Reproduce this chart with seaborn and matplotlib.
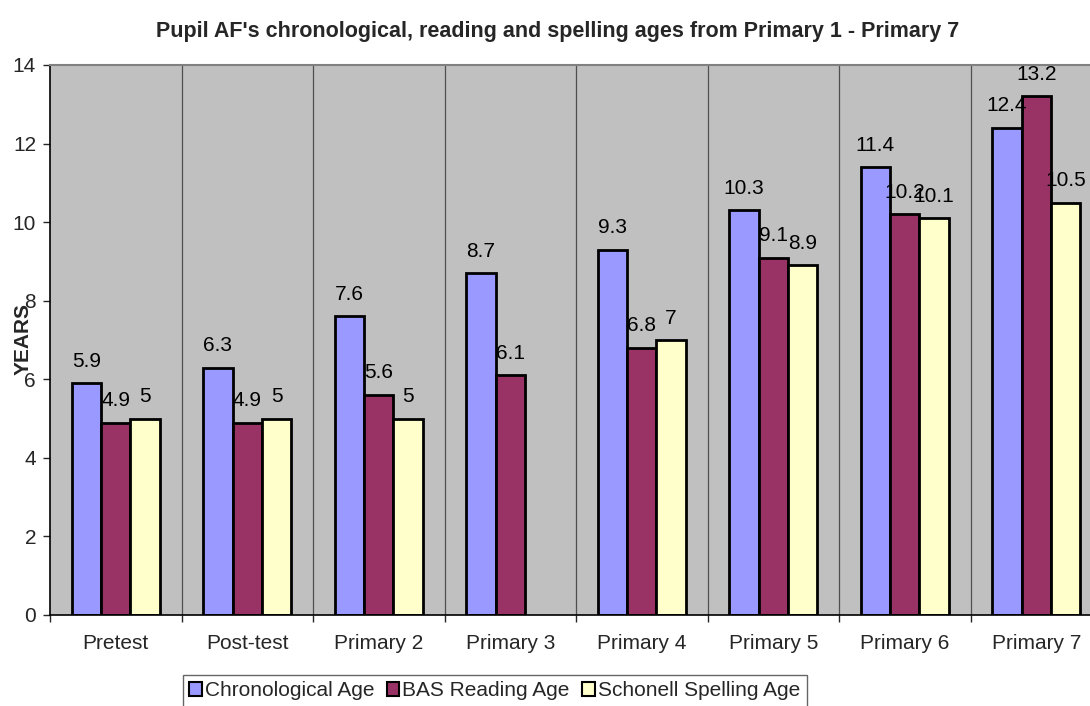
import numpy as np
import pandas as pd
import matplotlib
matplotlib.use("Agg")
import matplotlib.pyplot as plt
import seaborn as sns
from matplotlib.patches import Patch

categories = ["Pretest", "Post-test", "Primary 2", "Primary 3", "Primary 4", "Primary 5", "Primary 6", "Primary 7"]
series_names = ["Chronological Age", "BAS Reading Age", "Schonell Spelling Age"]
chronological = [5.9, 6.3, 7.6, 8.7, 9.3, 10.3, 11.4, 12.4]
bas_reading = [4.9, 4.9, 5.6, 6.1, 6.8, 9.1, 10.2, 13.2]
schonell_spelling = [5, 5, 5, np.nan, 7, 8.9, 10.1, 10.5]
colors = ["#9999FF", "#993366", "#FFFFCC"]

rows = []
for name, vals in zip(series_names, [chronological, bas_reading, schonell_spelling]):
    for c, v in zip(categories, vals):
        rows.append({"Stage": c, "Series": name, "Age": v})
df = pd.DataFrame(rows)

sns.set_style("white")
plt.rcParams["font.family"] = ["Liberation Sans", "DejaVu Sans"]

FS = 15
fig = plt.figure(figsize=(10.9, 7.06), dpi=100)
W, H = 1090, 706
ax = fig.add_axes([50 / W, 1 - 615 / H, 1052 / W, 550 / H])
ax.set_facecolor("#C0C0C0")

sns.barplot(data=df, x="Stage", y="Age", hue="Series", order=categories,
            hue_order=series_names, palette=colors, width=0.67, gap=0,
            edgecolor="black", linewidth=2, ax=ax, legend=False,
            saturation=1, errorbar=None)

for cont in ax.containers:
    labels = []
    for bar in cont:
        h = bar.get_height()
        labels.append("" if not np.isfinite(h) else f"{h:g}")
    ax.bar_label(cont, labels=labels, padding=9, fontsize=FS, color="black")

ax.set_xlim(-0.5, 7.5)
ax.set_ylim(0, 14)
ax.set_yticks(range(0, 15, 2))
ax.tick_params(axis="y", direction="out", length=5, width=1, labelsize=FS, pad=5, left=True)
ax.set_xticks(range(len(categories)))
ax.set_xticklabels(categories, fontsize=FS)
ax.tick_params(axis="x", which="major", length=0, pad=14)
ax.set_xticks(np.arange(-0.5, 8.0, 1.0), minor=True)
ax.tick_params(axis="x", which="minor", direction="out", length=5, width=1, bottom=True)
for xv in np.arange(0.5, 7.5, 1.0):
    ax.axvline(xv, color="#505050", linewidth=0.9, zorder=0.5)

ax.set_xlabel("")
ax.set_ylabel("")
for s in ["left", "bottom"]:
    ax.spines[s].set_color("black")
    ax.spines[s].set_linewidth(1.2)
ax.spines["top"].set_color("#808080")
ax.spines["top"].set_linewidth(1.5)
ax.spines["right"].set_visible(False)

fig.text(23 / W, 1 - 339 / H, "YEARS", rotation=90, fontsize=15, fontweight="bold",
         ha="center", va="center")
fig.text(558 / W, 1 - 31 / H,
         "Pupil AF's chronological, reading and spelling ages from Primary 1 - Primary 7",
         fontsize=15.5, fontweight="bold", ha="center", va="center")

handles = [Patch(facecolor=c, edgecolor="black", linewidth=1.5) for c in colors]
leg = fig.legend(handles, series_names, loc="upper left", bbox_to_anchor=(183 / W, 1 - 675 / H),
                 ncol=3, fontsize=FS, frameon=True, fancybox=False, edgecolor="#404040",
                 handlelength=0.6, handleheight=0.6, handletextpad=0.15, columnspacing=0.6,
                 borderpad=0.3, borderaxespad=0)
leg.get_frame().set_linewidth(1.0)

fig.savefig("out.png", dpi=100)
